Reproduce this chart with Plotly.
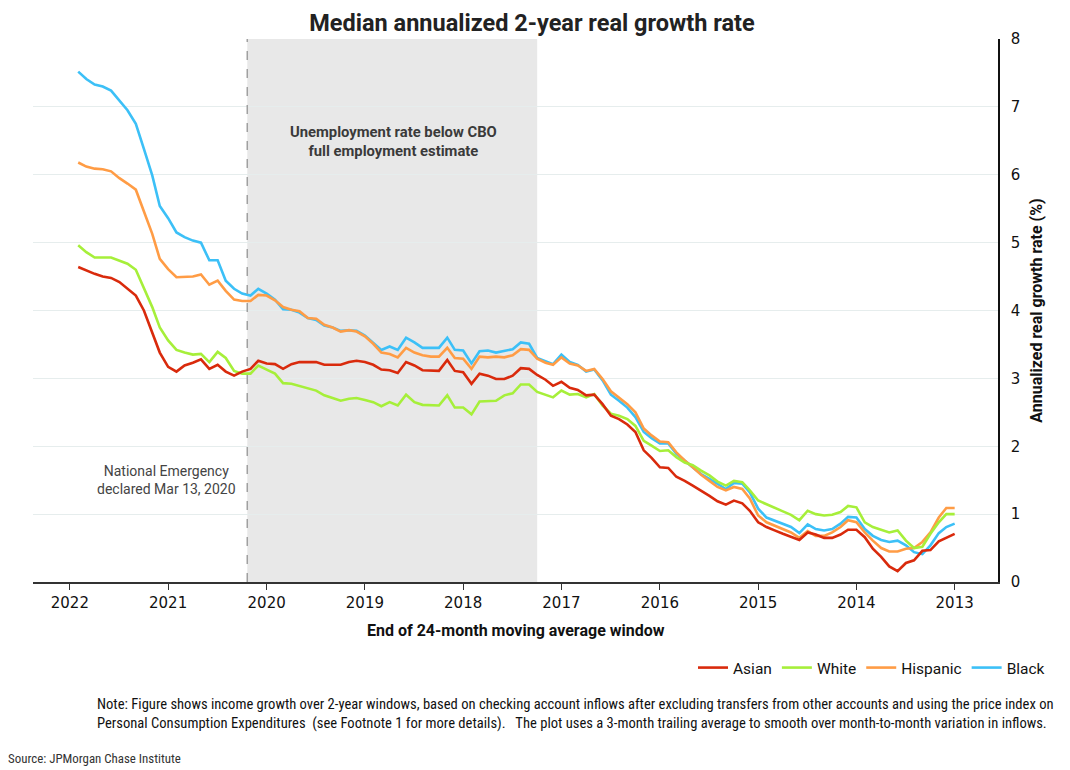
import pandas as pd
import plotly.graph_objects as go

# Monthly observations, Jan 2013 .. Dec 2021 (end of 24-month window)
months = pd.date_range("2013-01-01", periods=108, freq="MS")

black = [0.86,0.81,0.72,0.54,0.41,0.44,0.54,0.61,0.59,0.62,0.68,0.78,0.95,0.96,0.86,0.78,0.76,0.78,0.85,0.72,0.81,0.86,0.91,0.95,1.08,1.32,1.45,
         1.46,1.37,1.45,1.52,1.59,1.69,1.79,1.89,2.04,2.04,2.12,2.21,2.43,2.57,2.67,2.76,2.97,3.13,3.10,3.20,3.24,3.35,3.21,3.25,3.30,3.51,3.53,
         3.43,3.41,3.38,3.41,3.40,3.22,3.41,3.42,3.60,3.45,3.45,3.45,3.53,3.60,3.42,3.47,3.42,3.53,3.63,3.70,3.71,3.70,3.75,3.78,3.86,3.89,3.97,4.01,4.02,4.16,4.25,4.32,4.22,4.25,
         4.32,4.44,4.74,4.74,5.00,5.03,5.08,5.15,5.36,5.54,5.99,6.38,6.75,6.95,7.10,7.24,7.30,7.33,7.41,7.52]

hispanic = [1.09,1.09,0.95,0.73,0.59,0.50,0.49,0.45,0.45,0.50,0.61,0.73,0.88,0.91,0.81,0.73,0.68,0.68,0.75,0.65,0.73,0.78,0.83,0.88,0.98,1.23,1.37,
            1.40,1.35,1.40,1.49,1.58,1.69,1.79,1.91,2.06,2.07,2.16,2.26,2.50,2.62,2.72,2.81,2.99,3.14,3.11,3.19,3.22,3.31,3.20,3.23,3.29,3.42,3.43,
            3.34,3.31,3.32,3.31,3.32,3.14,3.29,3.30,3.45,3.32,3.32,3.34,3.38,3.45,3.31,3.36,3.38,3.51,3.62,3.69,3.71,3.69,3.75,3.79,3.88,3.89,3.99,4.01,4.05,4.15,4.22,4.23,4.14,4.14,
            4.16,4.29,4.44,4.38,4.53,4.50,4.50,4.49,4.61,4.76,5.13,5.45,5.78,5.87,5.95,6.05,6.08,6.09,6.12,6.18]

white = [1.00,1.00,0.88,0.71,0.52,0.50,0.61,0.76,0.73,0.77,0.81,0.88,1.10,1.12,1.03,0.99,0.98,1.00,1.05,0.91,0.99,1.04,1.09,1.14,1.20,1.35,1.47,
         1.49,1.42,1.48,1.57,1.64,1.72,1.76,1.84,1.94,1.93,2.01,2.08,2.30,2.40,2.45,2.48,2.60,2.77,2.72,2.77,2.76,2.82,2.72,2.76,2.80,2.91,2.91,
         2.78,2.75,2.67,2.67,2.66,2.47,2.57,2.57,2.75,2.60,2.60,2.61,2.65,2.76,2.60,2.65,2.59,2.65,2.68,2.71,2.70,2.67,2.71,2.75,2.82,2.85,2.89,2.92,2.93,3.07,3.13,3.19,3.07,3.07,
         3.11,3.30,3.39,3.24,3.36,3.35,3.38,3.42,3.56,3.75,4.05,4.34,4.60,4.69,4.74,4.78,4.78,4.78,4.86,4.96]

asian = [0.71,0.65,0.60,0.47,0.46,0.32,0.28,0.16,0.23,0.37,0.49,0.66,0.77,0.77,0.70,0.65,0.65,0.70,0.73,0.62,0.66,0.71,0.76,0.81,0.88,1.05,1.16,
         1.20,1.14,1.19,1.27,1.35,1.42,1.49,1.55,1.68,1.69,1.83,1.94,2.21,2.32,2.40,2.45,2.62,2.76,2.75,2.83,2.86,2.95,2.89,2.98,3.05,3.14,3.15,
         3.04,2.99,2.99,3.04,3.07,2.92,3.09,3.11,3.27,3.11,3.11,3.12,3.19,3.24,3.08,3.12,3.13,3.20,3.24,3.26,3.24,3.20,3.20,3.20,3.24,3.24,3.24,3.21,3.14,3.21,3.22,3.26,3.14,3.10,
         3.04,3.10,3.20,3.14,3.28,3.23,3.19,3.10,3.17,3.38,3.68,4.00,4.22,4.32,4.42,4.48,4.50,4.54,4.59,4.64]

series_names = ["Black", "Hispanic", "White", "Asian"]
series_values = [black, hispanic, white, asian]
series_colors = ["#3cc0f7", "#ff9c45", "#a6ef3a", "#d92a0c"]

shade_start, shade_end = "2017-04-01", "2020-03-13"
emergency_date = "2020-03-13"
x_range = ["2022-05-18", "2012-07-24"]  # reversed axis (mirrored layout)
year_ticks = [f"{y}-01-01" for y in range(2013, 2023)]
year_labels = [str(y) for y in range(2013, 2023)]

FONT = "Roboto, 'Open Sans', sans-serif"
NARROW = "'Liberation Sans Narrow', 'Roboto Condensed', Roboto, sans-serif"

# page body has an 8px margin: figure is sized so the plot area lands at x 33..998, y 39..582 of the page
W, H = 1062, 762

def px(xp):
    return (xp - 33) / 965

def py(yp):
    return (582 - yp) / 543

fig = go.Figure()
for name, vals, col in zip(series_names, series_values, series_colors):
    fig.add_trace(go.Scatter(x=months, y=vals, mode="lines", name=name,
                             line=dict(color=col, width=2.6)))

fig.add_shape(type="rect", xref="x", yref="paper", x0=shade_start, x1=shade_end,
              y0=0, y1=1, fillcolor="#e8e8e8", line=dict(width=0), layer="below")
fig.add_shape(type="line", xref="x", yref="paper", x0=emergency_date, x1=emergency_date,
              y0=0, y1=1, line=dict(color="#a0a0a0", width=1.5, dash="dash"), layer="above")

fig.add_annotation(x="2018-09-18", y=6.49, xref="x", yref="y",
                   text="<b>Unemployment rate below CBO<br>full employment estimate</b>",
                   showarrow=False, font=dict(family=FONT, size=14.8, color="#3a3a3a"), align="center")
fig.add_annotation(x="2021-01-08", y=1.51, xref="x", yref="y",
                   text="National Emergency<br>declared Mar 13, 2020",
                   showarrow=False, font=dict(family=FONT, size=14, color="#444444"), align="center")

fig.add_annotation(x=px(516), y=py(630), xref="paper", yref="paper",
                   text="<b>End of 24-month moving average window</b>", showarrow=False,
                   font=dict(family=FONT, size=16, color="#111111"), yanchor="middle")

note = ("Note: Figure shows income growth over 2-year windows, based on checking account inflows after excluding transfers from other accounts and using the price index on<br>"
        "Personal Consumption Expenditures  (see Footnote 1 for more details).   The plot uses a 3-month trailing average to smooth over month-to-month variation in inflows.")
fig.add_annotation(x=px(1056), y=py(713), xref="paper", yref="paper",
                   text=note, showarrow=False, xanchor="right", yanchor="middle", align="left",
                   font=dict(family=NARROW, size=14.6, color="#111111"))
fig.add_annotation(x=px(6), y=py(758), xref="paper", yref="paper",
                   text="Source: JPMorgan Chase Institute", showarrow=False, xanchor="left", yanchor="middle",
                   font=dict(family=NARROW, size=12.9, color="#333333"))

fig.update_layout(
    width=W, height=H,
    margin=dict(l=25, r=W - 990, t=31, b=H - 574),
    paper_bgcolor="white", plot_bgcolor="white",
    font=dict(family=FONT, size=14, color="#111111"),
    title=dict(text="<b>Median annualized 2-year real growth rate</b>", x=(532 - 8) / W, xanchor="center",
               y=1, yanchor="top", pad=dict(t=7, b=0), font=dict(family=FONT, size=23.5, color="#222222")),
    showlegend=True,
    legend=dict(orientation="h", x=px(1050), xanchor="right", y=py(668), yanchor="middle",
                traceorder="reversed", font=dict(family=FONT, size=15.5, color="#111111"),
                itemwidth=30, bgcolor="rgba(0,0,0,0)"),
    xaxis=dict(type="date", range=x_range, tickvals=year_ticks, ticktext=year_labels,
               showgrid=False, zeroline=False, showline=True, linecolor="#333333", linewidth=1.5,
               ticks="outside", ticklen=6, tickcolor="#333333",
               tickfont=dict(family="'DejaVu Sans', sans-serif", size=15, color="#111111")),
    yaxis=dict(range=[0, 8], dtick=1, side="right", showgrid=True, gridcolor="#e6eded", gridwidth=1,
               zeroline=False, showline=True, linecolor="#111111", linewidth=1.5, ticks="",
               ticklabelstandoff=8,
               tickfont=dict(family="'DejaVu Sans', sans-serif", size=15, color="#111111"),
               title=dict(text="<b>Annualized real growth rate (%)</b>", standoff=12,
                          font=dict(family=FONT, size=16, color="#111111"))),
)

fig.write_html("out.html")
